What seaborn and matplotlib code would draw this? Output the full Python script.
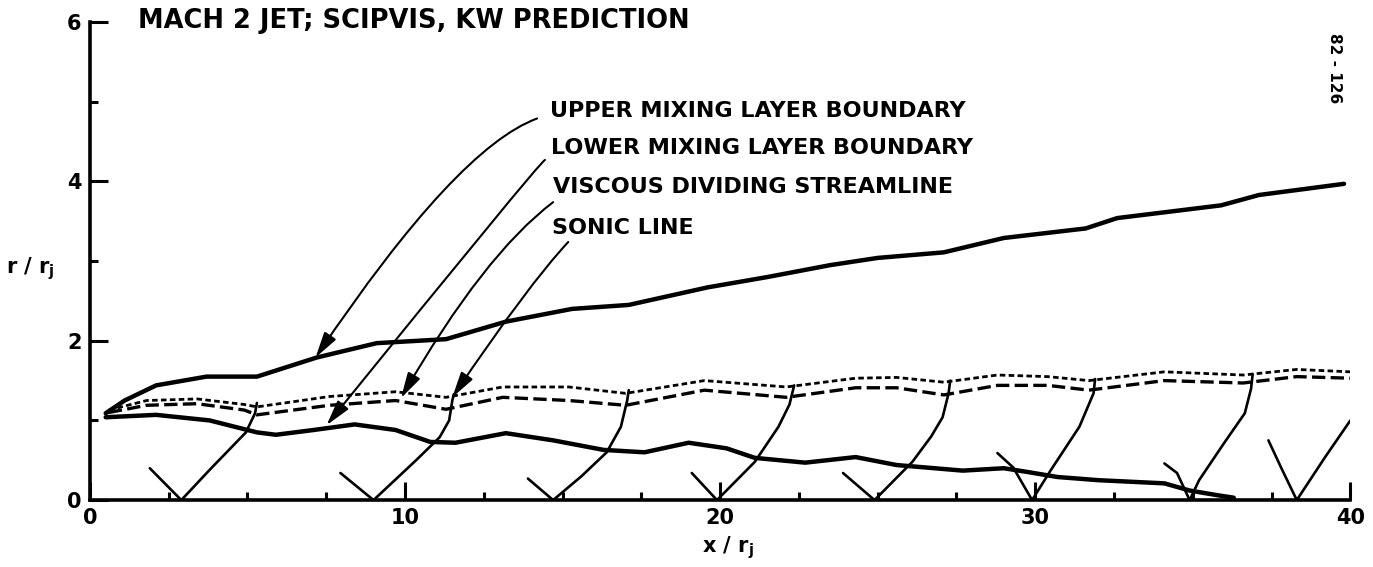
import matplotlib
matplotlib.use("Agg")
import matplotlib.pyplot as plt
import pandas as pd
import seaborn as sns

# ---- jet boundaries (x/rj, r/rj) ----
upper_x = [0.5, 1.1, 2.1, 3.7, 5.3, 7.2, 9.1, 11.3, 13.2, 15.3, 17.1, 19.6,
           21.5, 23.5, 25.0, 27.1, 29.0, 31.6, 32.6, 35.9, 37.1, 39.8]
upper_y = [1.09, 1.25, 1.44, 1.55, 1.55, 1.79, 1.97, 2.02, 2.24, 2.40, 2.45, 2.67,
           2.80, 2.95, 3.04, 3.11, 3.29, 3.41, 3.54, 3.70, 3.83, 3.97]

lower_x = [0.5, 2.1, 3.8, 5.3, 5.9, 7.1, 8.4, 9.7, 10.8, 11.6, 13.2, 14.7, 16.3,
           17.6, 19.0, 20.2, 21.1, 22.7, 24.3, 25.6, 27.7, 29.0, 29.8, 30.7, 32.0,
           34.1, 34.9, 35.8, 36.3]
lower_y = [1.04, 1.07, 1.00, 0.85, 0.82, 0.88, 0.95, 0.88, 0.73, 0.72, 0.84, 0.75, 0.63,
           0.60, 0.72, 0.65, 0.53, 0.47, 0.54, 0.44, 0.37, 0.40, 0.35, 0.29, 0.25,
           0.21, 0.12, 0.06, 0.03]

# viscous dividing streamline and sonic line share stations
pair_x = [0.6, 1.8, 3.4, 4.9, 5.3, 7.6, 9.7, 11.3, 13.1, 15.2, 17.0, 19.5, 22.1,
          24.3, 25.6, 27.1, 28.8, 30.4, 31.7, 34.1, 36.6, 38.3, 40.0]
dividing_y = [1.13, 1.25, 1.27, 1.20, 1.17, 1.30, 1.36, 1.29, 1.42, 1.42, 1.34, 1.50, 1.42,
              1.53, 1.54, 1.48, 1.57, 1.55, 1.50, 1.61, 1.57, 1.64, 1.61]
sonic_y = [1.10, 1.19, 1.21, 1.13, 1.07, 1.19, 1.25, 1.14, 1.29, 1.25, 1.19, 1.38, 1.29,
           1.41, 1.41, 1.32, 1.44, 1.44, 1.38, 1.50, 1.47, 1.55, 1.53]

# ---- shock cells: incident and reflected legs ----
incident_x = [[1.9, 2.9], [7.95, 9.0], [13.9, 14.7], [19.1, 19.9], [23.9, 24.9],
              [28.8, 29.3, 29.9], [34.1, 34.5, 34.9], [37.4, 37.8, 38.3]]
incident_y = [[0.40, 0.0], [0.34, 0.0], [0.27, 0.0], [0.34, 0.0], [0.34, 0.0],
              [0.59, 0.41, 0.0], [0.46, 0.34, 0.0], [0.75, 0.41, 0.0]]
reflected_x = [[2.9, 3.8, 4.95, 5.24, 5.3],
               [9.0, 10.35, 11.1, 11.4, 11.5, 11.55],
               [14.7, 15.6, 16.4, 16.85, 17.05, 17.1],
               [19.9, 21.1, 21.85, 22.2, 22.35],
               [24.9, 26.1, 26.7, 27.06, 27.25, 27.3],
               [29.9, 30.5, 31.4, 31.85, 31.9],
               [34.9, 35.2, 36.0, 36.65, 36.85, 36.9],
               [38.3, 39.2, 40.0]]
reflected_y = [[0.0, 0.38, 0.85, 1.09, 1.22],
               [0.0, 0.50, 0.79, 1.00, 1.25, 1.33],
               [0.0, 0.30, 0.60, 0.92, 1.25, 1.38],
               [0.0, 0.48, 0.92, 1.20, 1.44],
               [0.0, 0.48, 0.80, 1.04, 1.34, 1.50],
               [0.0, 0.38, 0.92, 1.34, 1.52],
               [0.0, 0.25, 0.72, 1.09, 1.40, 1.58],
               [0.0, 0.54, 1.00]]

# ---- labels ----
title_text = "MACH 2 JET; SCIPVIS, KW PREDICTION"
figure_id = "82 - 126"
curve_labels = ["UPPER MIXING LAYER BOUNDARY", "LOWER MIXING LAYER BOUNDARY",
                "VISCOUS DIVIDING STREAMLINE", "SONIC LINE"]
label_pos = [(14.6, 4.89), (14.63, 4.42), (14.7, 3.93), (14.66, 3.41)]
leader_start = [(14.19, 4.79), (14.44, 4.27), (14.7, 3.74), (15.18, 3.24)]
leader_tip = [(7.16, 1.79), (7.51, 0.94), (9.87, 1.28), (11.5, 1.29)]
leader_angles = [(20, 56), (32, 51), (37, 60), (47, 56)]

xticks_major = [0, 10, 20, 30, 40]
yticks_major = [0, 2, 4, 6]

sns.set_theme(style="ticks")
plt.rcParams["font.family"] = ["DejaVu Sans"]
plt.rcParams["font.weight"] = "bold"

fig = plt.figure(figsize=(13.73, 5.67), dpi=100)
ax = fig.add_axes([0.0655, 0.118, 0.918, 0.843])

ink = "black"

sns.lineplot(x=upper_x, y=upper_y, sort=False, estimator=None, color=ink, lw=3.2, ax=ax)
sns.lineplot(x=lower_x, y=lower_y, sort=False, estimator=None, color=ink, lw=3.2, ax=ax)
sns.lineplot(x=pair_x, y=dividing_y, sort=False, estimator=None, color=ink, lw=2.0,
             linestyle=(0, (2.0, 1.2)), ax=ax)
sns.lineplot(x=pair_x, y=sonic_y, sort=False, estimator=None, color=ink, lw=2.4,
             linestyle=(0, (4.0, 1.6)), ax=ax)

rows = []
for i, (xs, ys) in enumerate(zip(incident_x + reflected_x, incident_y + reflected_y)):
    for xv, yv in zip(xs, ys):
        rows.append({"seg": i, "x": xv, "y": yv})
shocks = pd.DataFrame(rows)
sns.lineplot(data=shocks, x="x", y="y", units="seg", estimator=None, sort=False,
             color=ink, lw=1.9, ax=ax)

for text, pos, start, tip, (aa, ab) in zip(curve_labels, label_pos, leader_start,
                                           leader_tip, leader_angles):
    ax.text(pos[0], pos[1], text, fontsize=16, fontweight="bold", ha="left",
            va="center", color=ink)
    ax.annotate("", xy=tip, xytext=start,
                arrowprops=dict(arrowstyle="-|>,head_length=1.3,head_width=0.35",
                                connectionstyle=f"angle3,angleA={aa},angleB={ab}",
                                color=ink, lw=1.5, shrinkA=0, shrinkB=0))

ax.set_xlim(0, 40)
ax.set_ylim(0, 6)
ax.set_xticks(xticks_major)
ax.set_xticks([v * 2.5 for v in range(17)], minor=True)
ax.set_yticks(yticks_major)
ax.set_yticks([1, 3, 5], minor=True)
ax.set_xlabel("")
ax.set_ylabel("")
ax.tick_params(axis="both", which="major", direction="in", length=13, width=2.2,
               labelsize=15, color=ink, labelcolor=ink, pad=6)
ax.tick_params(axis="both", which="minor", direction="in", length=6, width=2.2, color=ink)
for lab in ax.get_xticklabels() + ax.get_yticklabels():
    lab.set_fontweight("bold")
for side in ("left", "bottom"):
    ax.spines[side].set_linewidth(2.6)
    ax.spines[side].set_color(ink)
sns.despine(ax=ax)

fig.text(0.1005, 0.963, title_text, fontsize=18.5, fontweight="bold", ha="left",
         va="center", color=ink)
fig.text(0.972, 0.88, figure_id, fontsize=11, fontweight="bold", rotation=270,
         ha="center", va="center", color=ink)
fig.text(0.022, 0.527, r"r / r$_\mathregular{j}$", fontsize=15, fontweight="bold",
         ha="center", va="center", color=ink)
fig.text(0.530, 0.035, r"x / r$_\mathregular{j}$", fontsize=15, fontweight="bold",
         ha="center", va="center", color=ink)

fig.savefig("out.png", dpi=100, facecolor="white")
